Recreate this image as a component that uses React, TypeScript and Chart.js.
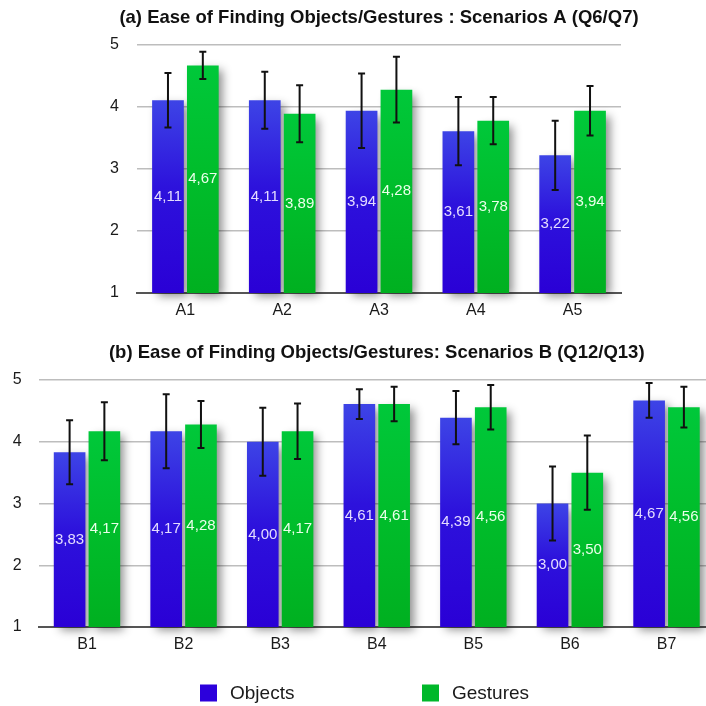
import React, { useEffect, useRef } from "react";
import { Chart, registerables } from "chart.js";

Chart.register(...registerables);

const FONT = '"Liberation Sans", Arial, Helvetica, sans-serif';

// ---- Data ----
const titleA = "(a) Ease of Finding Objects/Gestures : Scenarios A (Q6/Q7)";
const titleB = "(b) Ease of Finding Objects/Gestures: Scenarios B (Q12/Q13)";
const seriesNames = ["Objects", "Gestures"];

const categoriesA = ["A1", "A2", "A3", "A4", "A5"];
const objectsA = [4.11, 4.11, 3.94, 3.61, 3.22];
const gesturesA = [4.67, 3.89, 4.28, 3.78, 3.94];
const objectsErrA = [0.44, 0.46, 0.6, 0.55, 0.56];
const gesturesErrA = [0.22, 0.46, 0.53, 0.38, 0.4];

const categoriesB = ["B1", "B2", "B3", "B4", "B5", "B6", "B7"];
const objectsB = [3.83, 4.17, 4.0, 4.61, 4.39, 3.0, 4.67];
const gesturesB = [4.17, 4.28, 4.17, 4.61, 4.56, 3.5, 4.56];
const objectsErrB = [0.52, 0.6, 0.55, 0.24, 0.43, 0.6, 0.28];
const gesturesErrB = [0.47, 0.38, 0.45, 0.28, 0.36, 0.6, 0.33];

const yTicks = [1, 2, 3, 4, 5];

// ---- Styles ----
const BLUE = { top: "#3d44e6", mid: "#2d12dc", bottom: "#2a00d6", label: "#e4dcff", swatch: "#2c00dc" };
const GREEN = { top: "#00c83a", mid: "#00be2c", bottom: "#00b020", label: "#eaffea", swatch: "#00b82a" };

function gradientFor(c: { top: string; mid: string; bottom: string }) {
  return (ctx: any) => {
    const chart = ctx.chart;
    const ys = chart.scales && chart.scales.y;
    if (!ys || ctx.type !== "data") return c.bottom;
    const t = ys.getPixelForValue(ctx.raw);
    const b = ys.getPixelForValue(ys.min);
    if (!isFinite(t) || !isFinite(b) || Math.abs(b - t) < 1) return c.bottom;
    const g = chart.ctx.createLinearGradient(0, t, 0, b);
    g.addColorStop(0, c.top);
    g.addColorStop(0.45, c.mid);
    g.addColorStop(1, c.bottom);
    return g;
  };
}

const decorPlugin = {
  id: "decor",
  beforeDatasetsDraw(chart: any) {
    // soft drop shadows under every bar, drawn before the bars themselves
    const ctx = chart.ctx;
    const bottom = chart.chartArea.bottom;
    ctx.save();
    ctx.shadowColor = "rgba(0,0,0,0.45)";
    ctx.shadowBlur = 9;
    ctx.shadowOffsetX = 5;
    ctx.shadowOffsetY = 4;
    ctx.fillStyle = "#888";
    chart.data.datasets.forEach((_ds: any, di: number) => {
      const meta = chart.getDatasetMeta(di);
      meta.data.forEach((bar: any) => {
        const w = bar.width;
        ctx.fillRect(bar.x - w / 2 + 1, bar.y + 1, w - 2, bottom - bar.y - 2);
      });
    });
    ctx.restore();
  },
  afterDatasetsDraw(chart: any) {
    const ctx = chart.ctx;
    const ys = chart.scales.y;
    const base = ys.getPixelForValue(ys.min);
    chart.data.datasets.forEach((ds: any, di: number) => {
      const meta = chart.getDatasetMeta(di);
      const errs: number[] = ds.errors || [];
      meta.data.forEach((bar: any, i: number) => {
        const v = ds.data[i];
        const x = bar.x;
        // value label in the middle of the bar
        const midY = (ys.getPixelForValue(v) + base) / 2;
        ctx.save();
        ctx.fillStyle = ds.labelColor;
        ctx.font = `15px ${FONT}`;
        ctx.textAlign = "center";
        ctx.textBaseline = "middle";
        ctx.fillText(v.toFixed(2).replace(".", ","), x, midY);
        ctx.restore();
        // error bar
        const e = errs[i];
        if (e != null) {
          const yt = ys.getPixelForValue(v + e);
          const yb = ys.getPixelForValue(v - e);
          ctx.save();
          ctx.strokeStyle = "#111";
          ctx.lineWidth = 2;
          ctx.beginPath();
          ctx.moveTo(x, yt);
          ctx.lineTo(x, yb);
          ctx.moveTo(x - 3.5, yt);
          ctx.lineTo(x + 3.5, yt);
          ctx.moveTo(x - 3.5, yb);
          ctx.lineTo(x + 3.5, yb);
          ctx.stroke();
          ctx.restore();
        }
      });
    });
  },
  afterDraw(chart: any, _args: any, opts: any) {
    const ctx = chart.ctx;
    const ca = chart.chartArea;
    if (opts.title) {
      ctx.save();
      ctx.fillStyle = "#111";
      ctx.font = `bold 18.5px ${FONT}`;
      ctx.textAlign = "center";
      ctx.textBaseline = "middle";
      ctx.fillText(opts.title, (ca.left + ca.right) / 2, opts.titleY);
      ctx.restore();
    }
    if (opts.legend) {
      const items = [
        { name: seriesNames[0], color: BLUE.swatch, x: 200 },
        { name: seriesNames[1], color: GREEN.swatch, x: 422 },
      ];
      const y = opts.legendY;
      items.forEach((it) => {
        ctx.save();
        ctx.fillStyle = it.color;
        ctx.fillRect(it.x, y - 8.5, 17, 17);
        ctx.fillStyle = "#1a1a1a";
        ctx.font = `19px ${FONT}`;
        ctx.textAlign = "left";
        ctx.textBaseline = "middle";
        ctx.fillText(it.name, it.x + 30, y + 1);
        ctx.restore();
      });
    }
  },
};

function makeConfig(
  cats: string[],
  obj: number[],
  ges: number[],
  objErr: number[],
  gesErr: number[],
  geo: any
): any {
  return {
    type: "bar",
    data: {
      labels: cats,
      datasets: [
        {
          label: seriesNames[0],
          data: obj,
          errors: objErr,
          labelColor: BLUE.label,
          backgroundColor: gradientFor(BLUE),
          borderWidth: 0,
          categoryPercentage: 0.72,
          barPercentage: 0.91,
        },
        {
          label: seriesNames[1],
          data: ges,
          errors: gesErr,
          labelColor: GREEN.label,
          backgroundColor: gradientFor(GREEN),
          borderWidth: 0,
          categoryPercentage: 0.72,
          barPercentage: 0.91,
        },
      ],
    },
    options: {
      animation: false,
      responsive: false,
      maintainAspectRatio: false,
      layout: { padding: geo.padding },
      plugins: {
        legend: { display: false },
        tooltip: { enabled: false },
        title: { display: false },
        decor: { title: geo.title, titleY: geo.titleY, legend: geo.legend, legendY: geo.legendY },
      },
      scales: {
        x: {
          grid: { display: false, drawTicks: false },
          border: { display: true, color: "#555", width: 2 },
          ticks: { color: "#1a1a1a", font: { family: FONT, size: 16 }, padding: geo.xPad },
          afterFit: (s: any) => {
            s.height = geo.xHeight;
          },
        },
        y: {
          min: yTicks[0],
          max: yTicks[yTicks.length - 1],
          afterBuildTicks: (s: any) => {
            s.ticks = yTicks.map((v) => ({ value: v }));
          },
          grid: { color: "#bdbdbd", lineWidth: 1.5, drawTicks: false },
          border: { display: false },
          ticks: { color: "#1a1a1a", font: { family: FONT, size: 16 }, padding: geo.yPad },
          afterFit: (s: any) => {
            s.width = geo.yWidth;
          },
        },
      },
    },
    plugins: [decorPlugin],
  };
}

function BarChart(props: { config: any; width: number; height: number; top: number }) {
  const ref = useRef<HTMLCanvasElement | null>(null);
  useEffect(() => {
    if (!ref.current) return;
    const chart = new Chart(ref.current, props.config);
    return () => chart.destroy();
  }, []);
  return (
    <canvas
      ref={ref}
      width={props.width}
      height={props.height}
      style={{ position: "absolute", left: 0, top: props.top, width: props.width, height: props.height }}
    />
  );
}

export default function App() {
  const cfgA = makeConfig(categoriesA, objectsA, gesturesA, objectsErrA, gesturesErrA, {
    padding: { top: 45, right: 85, left: 0, bottom: 0 },
    xHeight: 37,
    xPad: 8,
    yWidth: 137,
    yPad: 18,
    title: titleA,
    titleY: 18,
    legend: false,
  });
  const cfgB = makeConfig(categoriesB, objectsB, gesturesB, objectsErrB, gesturesErrB, {
    padding: { top: 50, right: 5.2, left: 0, bottom: 49 },
    xHeight: 30,
    xPad: 8,
    yWidth: 38.7,
    yPad: 17,
    title: titleB,
    titleY: 23,
    legend: true,
    legendY: 363,
  });
  return (
    <div
      style={{
        position: "absolute",
        left: 0,
        top: 0,
        width: 706,
        height: 706,
        overflow: "hidden",
        background: "#fff",
      }}
    >
      <BarChart config={cfgA} width={706} height={330} top={0} />
      <BarChart config={cfgB} width={720} height={376} top={330} />
    </div>
  );
}
